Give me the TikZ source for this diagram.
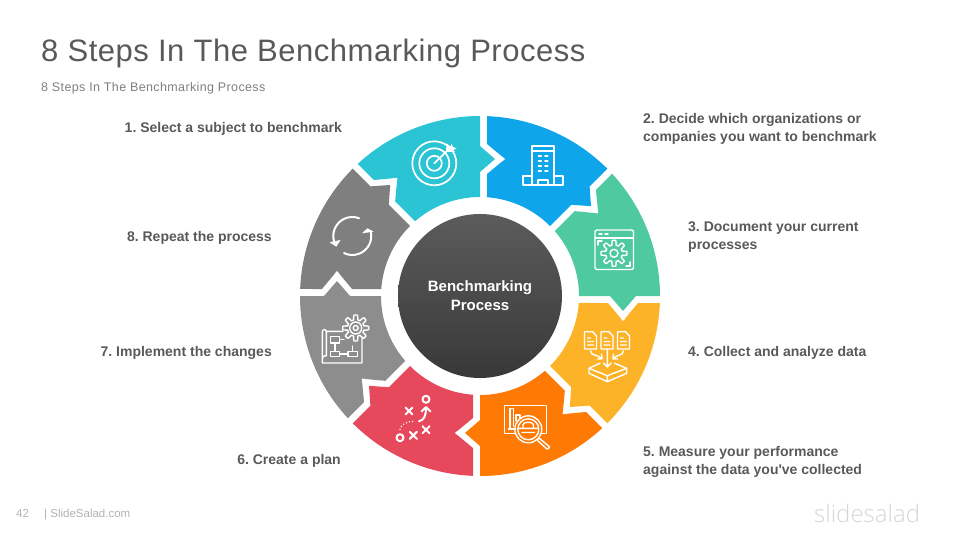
\documentclass[tikz,border=0pt]{standalone}
\usepackage{fontspec}
\setmainfont[Ligatures=TeXOff]{Liberation Sans}
\newfontfamily\titlefont[LetterSpace=1.7]{Liberation Sans}
\newfontfamily\subfont[LetterSpace=3]{Liberation Sans}
\newfontfamily\logofont{Open Sans Light}
\definecolor{segteal}{HTML}{2AC4D4}
\definecolor{segblue}{HTML}{0FA5EB}
\definecolor{seggreen}{HTML}{4EC9A0}
\definecolor{segyellow}{HTML}{FDB327}
\definecolor{segorange}{HTML}{FE7A05}
\definecolor{segred}{HTML}{E5495B}
\definecolor{seggrey}{HTML}{8D8D8D}
\definecolor{segdark}{HTML}{7F7F7F}
\definecolor{inktext}{HTML}{595959}
\tikzset{
  steplabel/.style={font=\fontsize{14}{18}\selectfont\bfseries\frenchspacing,text=inktext,align=left,inner sep=0pt},
  icon/.style={draw=white,line width=1.4pt,line cap=round,line join=round},
  iconbold/.style={icon,line width=2pt}
}
\newcommand{\gearshape}[3]{
  \draw[icon] plot[samples=145,domain=0:360] ({#1+#3*(0.82+0.18*max(-1,min(1,2.2*cos(8*\x))))*cos(\x)},{#2+#3*(0.82+0.18*max(-1,min(1,2.2*cos(8*\x))))*sin(\x)}) -- cycle;
}
\begin{document}
\begin{tikzpicture}[x=1pt,y=-1pt]
  \useasboundingbox (0,0) rectangle (960,540);
  \node[anchor=base west,inner sep=0pt,text=inktext,font=\titlefont\fontsize{31}{36}\selectfont] (title) at (41,62) {8 Steps In The Benchmarking Process};
  \node[anchor=base west,inner sep=0pt,text=segdark,font=\subfont\fontsize{12.5}{15}\selectfont] (subtitle) at (41,91.5) {8 Steps In The Benchmarking Process};
  \foreach \i/\segcol/\tabr/\notchr in {0/segteal/137/142,1/segblue/142/137,2/seggreen/143/142,3/segyellow/142/143,4/segorange/137/142,5/segred/142/137,6/seggrey/143/142,7/segdark/142/143} {
    \begin{scope}[shift={(480,296)},y=1pt,rotate=-45*\i]
      \fill[\segcol] (90:180) arc (90:132.77:180)
        -- ([rotate=45]7,\notchr+15) -- ([rotate=45]22,\notchr+2.6)
        .. controls ([rotate=45]26,\notchr) .. ([rotate=45]22,\notchr-2.6)
        -- ([rotate=45]7,\notchr-15) -- (130.95:99) arc (130.95:90:99)
        -- (0,\tabr-13) -- (15,\tabr) -- (0,\tabr+13) -- cycle;
    \end{scope}
  }
  \node[circle,minimum size=164pt,inner sep=0pt,top color=black!64,bottom color=black!78,text=white,align=center,font=\fontsize{15}{19}\selectfont\bfseries] (hub) at (480,296) {Benchmarking\\Process};
  \node[steplabel,anchor=east] (step1) at (342,128.5) {1. Select a subject to benchmark};
  \node[steplabel,anchor=west] (step2) at (643,128.5) {2. Decide which organizations or\\companies you want to benchmark};
  \node[steplabel,anchor=west] (step3) at (688,237.5) {3. Document your current\\processes};
  \node[steplabel,anchor=west] (step4) at (688,352.5) {4. Collect and analyze data};
  \node[steplabel,anchor=west] (step5) at (643,461.5) {5. Measure your performance\\against the data you've collected};
  \node[steplabel,anchor=east] (step6) at (341,460.5) {6. Create a plan};
  \node[steplabel,anchor=east] (step7) at (272,352.5) {7. Implement the changes};
  \node[steplabel,anchor=east] (step8) at (272,237.5) {8. Repeat the process};
  \node[anchor=base west,inner sep=0pt,text=black!30,font=\fontsize{11.5}{13}\selectfont] (pagenum) at (16,517) {42};
  \node[anchor=base west,inner sep=0pt,text=black!30,font=\fontsize{11.5}{13}\selectfont] (site) at (44,517) {| SlideSalad.com};
  \node[anchor=base west,inner sep=0pt,text=black!16,font=\logofont\fontsize{24}{28}\selectfont] (logo) at (814,522) {slidesalad};
  % target
  \draw[icon,line width=1.7pt] (434.3,163.3) circle (22) (434.3,163.3) circle (15) (434.3,163.3) circle (7.5);
  \draw[icon,line width=1.7pt] (434.3,163.3) -- (448,150);
  \fill[white] (446,152) -- (446.5,143.5) -- (450.5,146.5) -- (451.5,143.5) -- (453,147) -- (456.5,148.5) -- (453,150) -- (455,152) -- (449,152) -- cycle;
  % tower
  \draw[icon] (532,185) -- (532,146) -- (554,146) -- (554,185) (532,151) -- (554,151)
    (532,176) -- (523,176) -- (523,185) -- (563,185) -- (563,176) -- (554,176)
    (538,185) -- (538,180) -- (548,180) -- (548,185);
  \foreach \ypos in {156.5,161.5,166.5,171.5} {
    \draw[iconbold] (538.5,\ypos) -- (541,\ypos) (545,\ypos) -- (547.5,\ypos);
  }
  % settings window
  \draw[icon,rounded corners=2pt] (595,230) rectangle (633.5,269.5);
  \draw[icon] (595,238) -- (633.5,238) (599,234) -- (602,234) (605,234) -- (608,234)
    (598,245) -- (598,241) -- (602,241) (630,262) -- (630,266) -- (626,266);
  \gearshape{614}{253.3}{13}
  \draw[icon] (614,253.3) circle (4);
  % documents to tray
  \foreach \xpos in {584.5,601,617.5} {
    \draw[icon] (\xpos,331.7) -- (\xpos+8,331.7) -- (\xpos+12,336) -- (\xpos+12,349) -- (\xpos,349) -- cycle
      (\xpos+3,338) -- (\xpos+6,338) (\xpos+3,341.5) -- (\xpos+9,341.5) (\xpos+3,345) -- (\xpos+9,345);
  }
  \draw[icon] (607.3,349) -- (607.3,367) (603.5,363) -- (607.3,367) -- (611.1,363)
    (590.7,351) .. controls (591,356) and (596,354) .. (601.7,358.3) (597.5,359) -- (602,358.8) -- (601.5,354)
    (623.3,351) .. controls (623,356) and (618,354) .. (613.3,358.3) (617.5,359) -- (613,358.8) -- (613.5,354);
  \draw[icon] (600,363.2) -- (589,368.3) -- (607.3,375.7) -- (626.7,368.3) -- (614.5,363.2)
    (589,368.3) -- (589,373.3) -- (607.3,381.7) -- (626.7,373.3) -- (626.7,368.3) (607.3,375.7) -- (607.3,381.7);
  % report and lens
  \draw[icon] (504.5,433.5) -- (504.5,405.7) -- (546.7,405.7) -- (546.7,433.5) -- (541,433.5) (515,433.5) -- (504.5,433.5);
  \draw[icon] (510,429) -- (510,408.5) -- (513.5,408.5) -- (513.5,426) (516,421) -- (516,415) -- (520,415) -- (520,418)
    (508.5,429) -- (515.5,429);
  \draw[icon] (528.3,429.3) circle (13.5) (528.3,429.3) circle (10.5);
  \draw[icon] (519,428.3) -- (538,428.3) (523,428.3) -- (523,424.5) .. controls (524,421.5) and (532.5,421.5) .. (533.5,424.5) -- (533.5,428.3) (522,432.5) -- (534.5,432.5);
  \draw[icon,rounded corners=1pt] (537,440) -- (539,438) -- (549.8,447) -- (547.5,449.5) -- cycle;
  % play diagram
  \draw[iconbold] (426,399.3) circle (3.5) (400,437.7) circle (3.5)
    (405.5,407.5) -- (412.5,414.5) (412.5,407.5) -- (405.5,414.5)
    (422.5,426.2) -- (429.5,433.2) (429.5,426.2) -- (422.5,433.2)
    (409.8,431.8) -- (416.8,438.8) (416.8,431.8) -- (409.8,438.8)
    (419,421.3) .. controls (424,420) and (426,416) .. (426,408)
    (421.7,411.3) -- (426,407) -- (430.3,411.3);
  \draw[icon,line width=1.6pt,dash pattern=on 0pt off 3.2pt] (400,429.3) .. controls (401,424) and (407,421.3) .. (415,421.3);
  % blueprint and gear
  \gearshape{355.7}{328}{13}
  \draw[icon] (355.7,328) circle (6) (355.7,328) circle (2.5);
  \draw[icon] (343,331.3) -- (326.3,331.3) (322.3,332) .. controls (322.3,329) and (326.3,328.5) .. (326.3,332) -- (326.3,356)
    (322.3,332) -- (322.3,363) -- (362,363) -- (362,338)
    (322.3,359) .. controls (322.3,356) and (326.3,355) .. (326.3,356);
  \draw[icon] (330.3,336.3) rectangle (339.7,343) (330.3,351.3) rectangle (339.7,356.3) (348,351.3) rectangle (357.3,356.3)
    (335,343) -- (335,351.3) (339.7,353.8) -- (348,353.8) (339.7,339.7) -- (344,339.7) (352.3,346) -- (352.3,351.3);
  % refresh arrows
  \begin{scope}[shift={(352.3,236)},y=1pt]
    \draw[iconbold] (69:19) arc (69:196:19);
    \fill[white] (-22.7,-6.3) -- (-16,-10.7) -- (-11.7,-4) -- cycle;
    \draw[iconbold] (244:19) arc (244:376:19);
    \fill[white] (9.7,2.7) -- (15,7.7) -- (21.3,4.3) -- cycle;
  \end{scope}
\end{tikzpicture}
\end{document}
